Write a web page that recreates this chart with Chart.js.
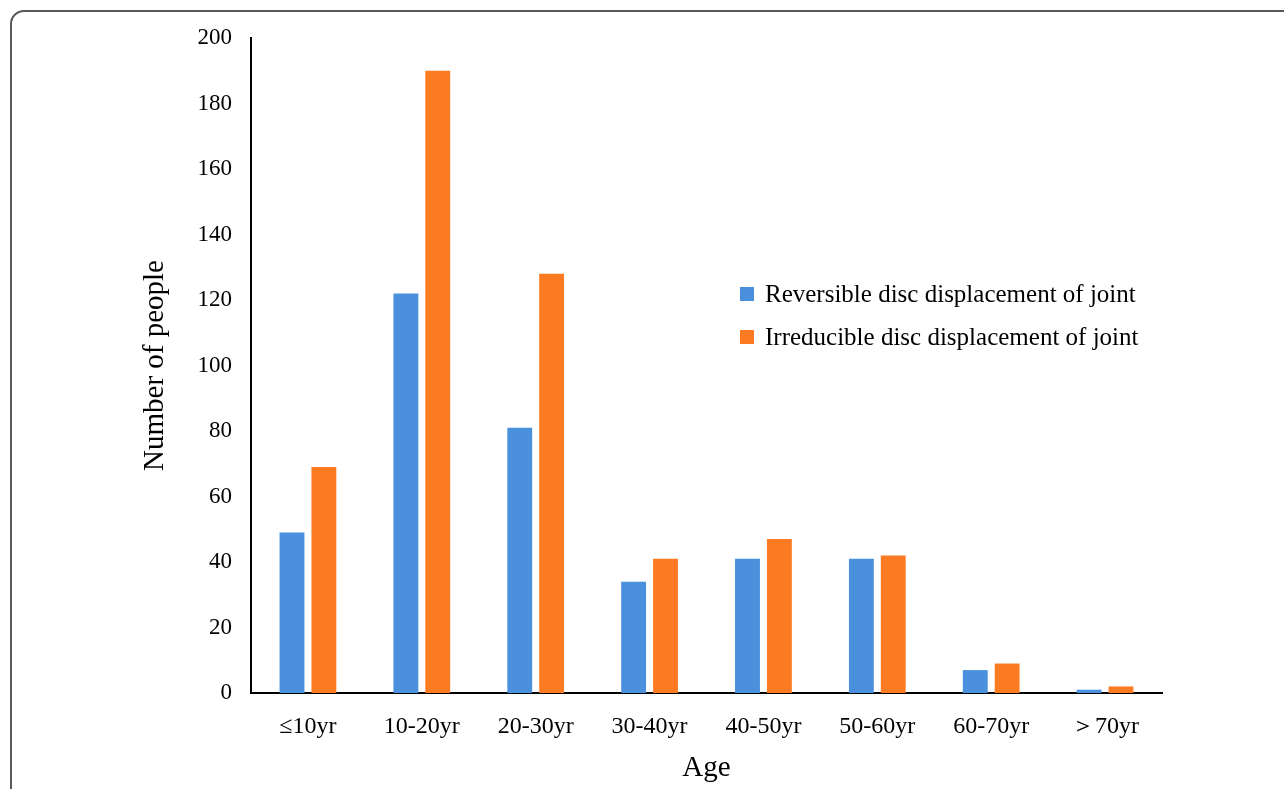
<!DOCTYPE html>
<html>
<head>
<meta charset="utf-8">
<script src="https://cdn.jsdelivr.net/npm/chart.js@4.4.1/dist/chart.umd.min.js"></script>
<style>
  html, body { margin: 0; padding: 0; background: #fff; }
  #wrap { position: relative; width: 1284px; height: 789px; overflow: hidden; }
  #frame { position: absolute; left: 10px; top: 10px; width: 1320px; height: 820px;
           border: 2px solid #5a5a5a; border-radius: 14px; box-sizing: border-box; pointer-events: none; }
  canvas { position: absolute; left: 0; top: 0; }
</style>
</head>
<body>
<div id="wrap">
  <canvas id="c" width="1284" height="789"></canvas>
  <div id="frame"></div>
</div>
<script>
const categories = ["\u226410yr", "10-20yr", "20-30yr", "30-40yr", "40-50yr", "50-60yr", "60-70yr", "\uFF1E70yr"];
const reversible = [49, 122, 81, 34, 41, 41, 7, 1];
const irreducible = [69, 190, 128, 41, 47, 42, 9, 2];
const seriesNames = ["Reversible disc displacement of joint", "Irreducible disc displacement of joint"];
const yTicks = [0, 20, 40, 60, 80, 100, 120, 140, 160, 180, 200];

const FONT = "'Liberation Serif', 'Times New Roman', serif";

const insideLegend = {
  id: 'insideLegend',
  afterDraw(chart) {
    const ctx = chart.ctx;
    ctx.save();
    ctx.font = "25px " + FONT;
    ctx.textBaseline = 'middle';
    chart.data.datasets.forEach((ds, i) => {
      const y = 294 + i * 43;
      ctx.fillStyle = ds.backgroundColor;
      ctx.fillRect(740, y - 7, 14, 14);
      ctx.fillStyle = '#000';
      ctx.fillText(ds.label, 765, y + 1);
    });
    ctx.restore();
  }
};

new Chart(document.getElementById('c'), {
  type: 'bar',
  data: {
    labels: categories,
    datasets: [
      { label: seriesNames[0], data: reversible, backgroundColor: '#4A90DD',
        categoryPercentage: 0.56, barPercentage: 0.78 },
      { label: seriesNames[1], data: irreducible, backgroundColor: '#FC7B22',
        categoryPercentage: 0.56, barPercentage: 0.78 }
    ]
  },
  options: {
    responsive: false,
    animation: false,
    layout: { padding: { left: 0, right: 122, top: 38, bottom: 0 } },
    plugins: { legend: { display: false }, tooltip: { enabled: false } },
    scales: {
      x: {
        grid: { display: false, drawTicks: false },
        border: { display: true, color: '#000', width: 2 },
        ticks: { color: '#000', font: { family: FONT, size: 24 }, padding: 19, maxRotation: 0 },
        title: { display: true, text: 'Age', color: '#000', font: { family: FONT, size: 29 }, padding: { top: 0, bottom: 3 } },
        afterFit(s) { s.height = 96; }
      },
      y: {
        min: 0, max: 200,
        grid: { display: false, drawTicks: false },
        border: { display: true, color: '#000', width: 2 },
        afterBuildTicks(s) { s.ticks = yTicks.map(v => ({ value: v })); },
        ticks: { color: '#000', font: { family: FONT, size: 23 }, padding: 19 },
        title: { display: true, text: 'Number of people', color: '#000', font: { family: FONT, size: 29 }, padding: { top: 138, bottom: 0 } },
        afterFit(s) { s.width = 251; }
      }
    }
  },
  plugins: [insideLegend]
});
</script>
</body>
</html>
